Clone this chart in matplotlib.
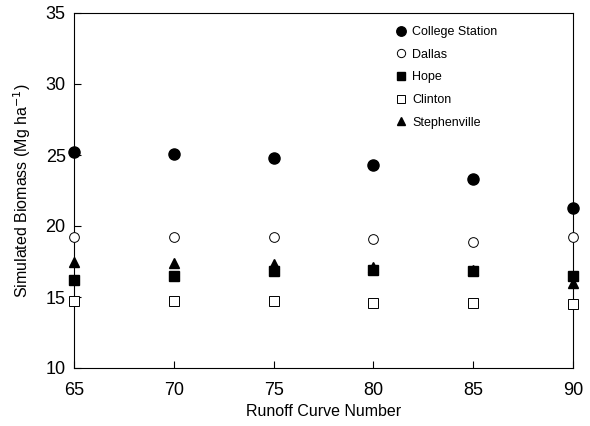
import matplotlib.pyplot as plt

plt.rcParams['font.family'] = ['Liberation Sans', 'DejaVu Sans']

cn = [65, 70, 75, 80, 85, 90]
college_station = [25.2, 25.1, 24.8, 24.3, 23.3, 21.3]
dallas = [19.2, 19.2, 19.2, 19.1, 18.9, 19.2]
hope = [16.2, 16.5, 16.8, 16.9, 16.8, 16.5]
clinton = [14.7, 14.7, 14.7, 14.6, 14.6, 14.5]
stephenville = [17.5, 17.4, 17.3, 17.1, 16.9, 16.0]

fig = plt.figure(figsize=(5.9, 4.26), dpi=100)
ax = fig.add_axes([74/590, 1-368/426, (573-74)/590, (368-13)/426])

ax.plot(cn, college_station, 'o', color='black', markersize=8, label='College Station', clip_on=False, zorder=5)
ax.plot(cn, dallas, 'o', mfc='white', mec='black', mew=0.7, markersize=7, label='Dallas', clip_on=False, zorder=5)
ax.plot(cn, hope, 's', color='black', markersize=7, label='Hope', clip_on=False, zorder=5)
ax.plot(cn, clinton, 's', mfc='white', mec='black', mew=0.7, markersize=7, label='Clinton', clip_on=False, zorder=5)
ax.plot(cn, stephenville, '^', color='black', markersize=7.5, label='Stephenville', clip_on=False, zorder=4)

ax.set_xlim(65, 90)
ax.set_ylim(10, 35)
ax.set_xticks(cn)
ax.set_yticks([10, 15, 20, 25, 30, 35])
ax.tick_params(direction='in', length=5, width=0.8, labelsize=13, pad=6)
ax.tick_params(axis='x', pad=10)
for s in ax.spines.values():
    s.set_linewidth(0.8)

ax.set_xlabel('Runoff Curve Number', fontsize=11.5, labelpad=4)
ax.set_ylabel('Simulated Biomass (Mg ha$^{-1}$)', fontsize=11.5, labelpad=9)

ax.legend(loc='upper left', bbox_to_anchor=(0.62, 0.995), frameon=False, fontsize=9,
          handletextpad=0.4, labelspacing=0.85, handlelength=1.0, markerscale=0.85)

fig.savefig('out.png', dpi=100)
